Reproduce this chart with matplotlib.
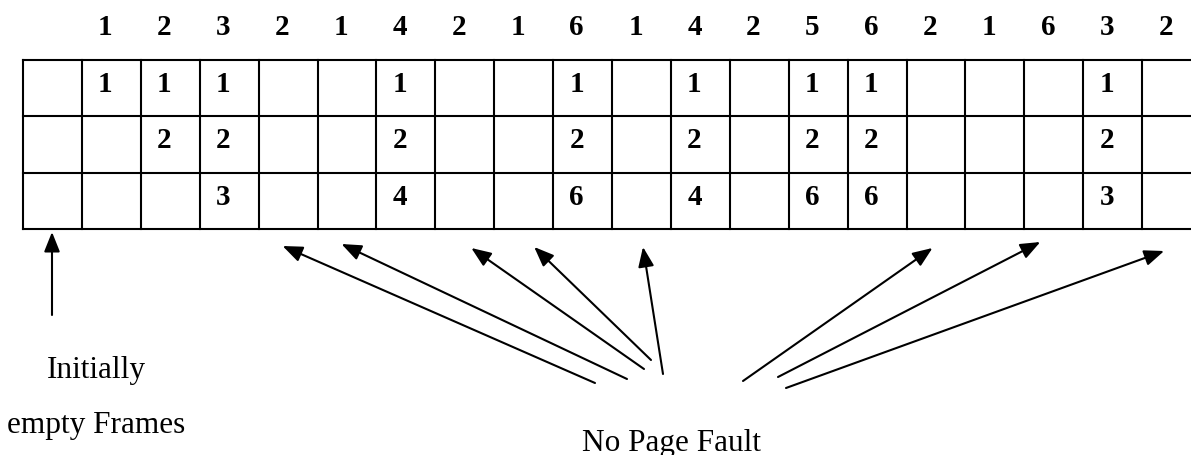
import matplotlib
matplotlib.use('Agg')
import matplotlib.pyplot as plt

# reference string (one column per reference) and frame contents after each one
refs = [1, 2, 3, 2, 1, 4, 2, 1, 6, 1, 4, 2, 5, 6, 2, 1, 6, 3, 2]
frames = [
    [1, None, None], [1, 2, None], [1, 2, 3], None, None,
    [1, 2, 4], None, None, [1, 2, 6], None,
    [1, 2, 4], None, [1, 2, 6], [1, 2, 6], None,
    None, None, [1, 2, 3], None,
]
n_frames = 3
# columns (1-based reference index) that the "No Page Fault" arrows point to
arrow_cols = [4, 5, 7, 8, 10, 15, 17, 19]

# layout, in pixels
W, H = 1191, 456
X0, CW = 23, 58.9      # table left edge, column width
Y0, RH = 61, 56.33     # table top edge, row height
LW = 1.5

fig = plt.figure(figsize=(W / 100, H / 100), dpi=100)
ax = fig.add_axes([0, 0, 1, 1])
ax.set_xlim(0, W)
ax.set_ylim(H, 0)
ax.axis('off')

ncols = len(refs) + 1  # plus the initial empty column

# grid
for r in range(n_frames + 1):
    ax.plot([X0, W + 5], [Y0 + r * RH] * 2, color='k', lw=LW, solid_capstyle='projecting')
for c in range(ncols + 1):
    ax.plot([X0 + c * CW] * 2, [Y0, Y0 + n_frames * RH], color='k', lw=LW, solid_capstyle='projecting')

bold = dict(family='Liberation Serif', fontsize=21, fontweight='bold', ha='center', va='baseline')
for i, ref in enumerate(refs):
    cx = X0 + (i + 1) * CW + 23.5
    ax.text(cx, 35, str(ref), **bold)
    if frames[i] is None:
        continue
    for r, v in enumerate(frames[i]):
        if v is not None:
            ax.text(cx, Y0 + r * RH + 31, str(v), **bold)

reg = dict(family='Liberation Serif', fontsize=22.5, ha='center', va='baseline')
ax.text(96, 378, 'Initially', **reg)
ax.text(96, 433, 'empty Frames', **reg)
ax.text(672, 451, 'No Page Fault', **reg)

aprops = dict(arrowstyle='-|>,head_length=1.2,head_width=0.48', color='k',
              lw=LW, mutation_scale=10, shrinkA=0, shrinkB=0)

# initially empty frames arrow
ax.annotate('', xy=(52, 233), xytext=(52, 316), arrowprops=aprops)

# no page fault arrows: tip offset inside target column, tail near the label
tip_dx = [24, 24, 36, 40, 31, 26, 16, 22]
tip_y = [247, 245, 249, 248, 248, 249, 243, 252]
tails = [(595, 384), (627, 380), (644, 370), (651, 361), (663, 375),
         (743, 382), (778, 378), (786, 389)]
for col, dx, ty, tail in zip(arrow_cols, tip_dx, tip_y, tails):
    tip = (X0 + col * CW + dx, ty)
    ax.annotate('', xy=tip, xytext=tail, arrowprops=aprops)

fig.savefig('out.png', dpi=100)
